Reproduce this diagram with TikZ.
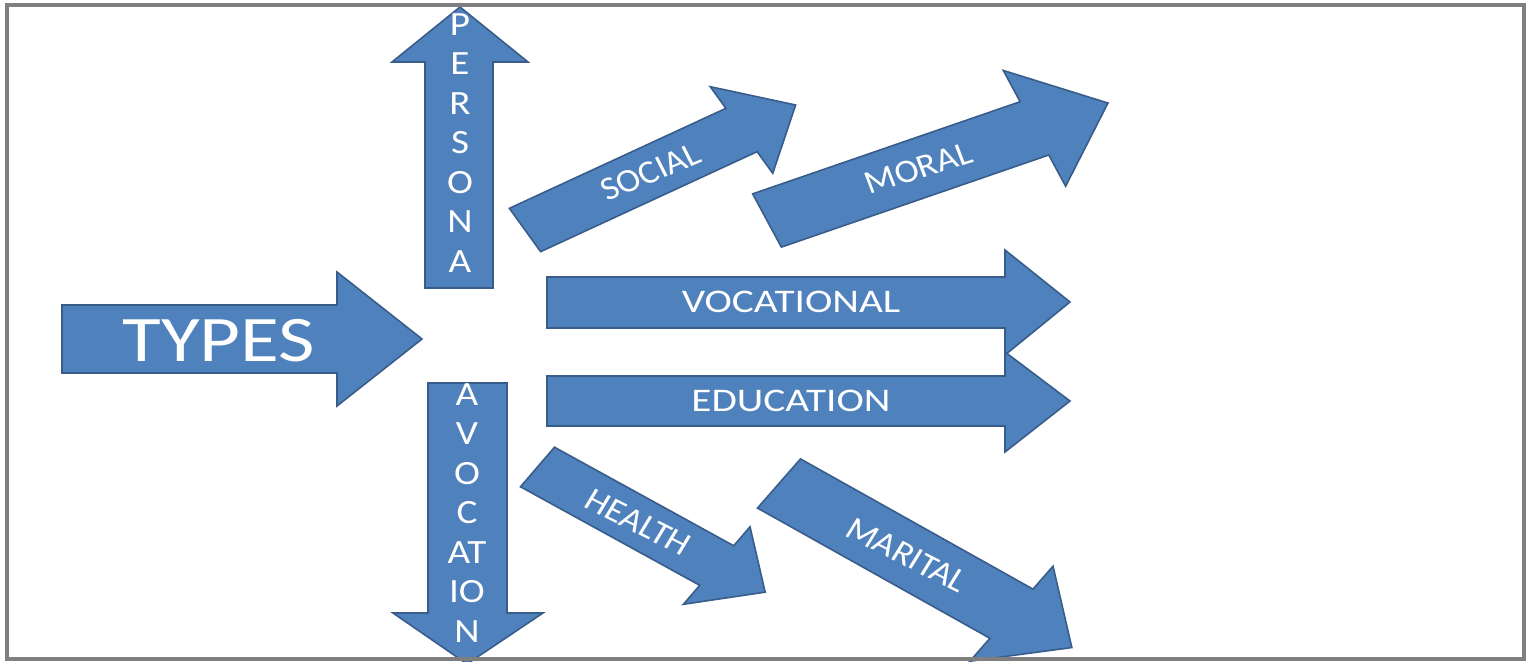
\documentclass[tikz,border=0pt]{standalone}
\usepackage{fontspec}
\setmainfont{Carlito}
\definecolor{arrowfill}{HTML}{4F81BD}
\definecolor{arrowline}{HTML}{385D8A}
\definecolor{framegray}{HTML}{7F7F7F}
\tikzset{
  arrowbody/.style={fill=arrowfill, draw=arrowline, line width=0.8pt, line join=miter},
  arrowtext/.style={text=white, inner sep=0pt, font=\fontsize{16.5}{19}\selectfont},
  stacktext/.style={text=white, inner sep=0pt, align=center, xscale=1.15, font=\fontsize{17}{19.75}\selectfont},
}
% #1 name, #2 tail centre, #3 angle, #4 length, #5 shaft half width,
% #6 head half width, #7 head length, #8 text position, #9 text
\newcommand{\diagarrow}[9]{%
  \begin{scope}[shift={(#2)}, xscale=1.25, rotate=#3]
    \draw[arrowbody] (0,#5) -- ({#4-#7},#5) -- ({#4-#7},#6) -- (#4,0)
      -- ({#4-#7},-#6) -- ({#4-#7},-#5) -- (0,-#5) -- cycle;
    \coordinate (#1-c) at (#8,0);
  \end{scope}
  \node[arrowtext, xscale=1.1, rotate={atan2(sin(#3),1.25*cos(#3))}] (#1) at (#1-c) {#9};}
\begin{document}
\begin{tikzpicture}[x=0.5pt, y=-0.5pt]
\useasboundingbox (0,0) rectangle (1532,662);
\begin{scope}
\clip (0,0) rectangle (1532,662);
\fill[white] (0,0) rectangle (1532,662);
% TYPES
\draw[arrowbody] (62,305) -- (337,305) -- (337,272) -- (422,339) -- (337,406) -- (337,373) -- (62,373) -- cycle;
\node[arrowtext, xscale=1.22, font=\fontsize{32.5}{39}\selectfont] (types) at (219,341) {TYPES};
% PERSONA (up)
\draw[arrowbody] (425,288) -- (425,62) -- (392,62) -- (460,7) -- (528,62) -- (493,62) -- (493,288) -- cycle;
\node[stacktext] (persona) at (460,143) {P\\E\\R\\S\\O\\N\\A};
% AVOCATION (down)
\draw[arrowbody] (428,383) -- (428,613) -- (393,613) -- (467,664) -- (543,613) -- (507,613) -- (507,383) -- cycle;
\node[stacktext] (avocation) at (467,513) {A\\V\\O\\C\\AT\\IO\\N};
% VOCATIONAL
\draw[arrowbody] (547,277) -- (1005,277) -- (1005,250) -- (1070,302) -- (1005,355) -- (1005,328) -- (547,328) -- cycle;
\node[arrowtext, xscale=1.25] (vocational) at (791,302) {VOCATIONAL};
% EDUCATION
\draw[arrowbody] (547,376) -- (1005,376) -- (1005,352) -- (1070,401) -- (1005,452) -- (1005,426) -- (547,426) -- cycle;
\node[arrowtext, xscale=1.25] (education) at (791,401) {EDUCATION};
% diagonal arrows
\diagarrow{social}{525,230}{30}{250}{25}{50}{50}{116}{SOCIAL}
\diagarrow{moral}{767,220.5}{23.3}{297}{29}{63}{64}{132}{MORAL}
\diagarrow{health}{537.5,467}{-34.5}{221}{24}{47}{47}{98}{HEALTH}
\diagarrow{marital}{779,483.5}{-35}{286}{30}{58}{59}{125}{MARITAL}
\end{scope}
% frame
\draw[framegray, line width=1.6pt] (7,5) rectangle (1524,659);
\end{tikzpicture}
\end{document}
